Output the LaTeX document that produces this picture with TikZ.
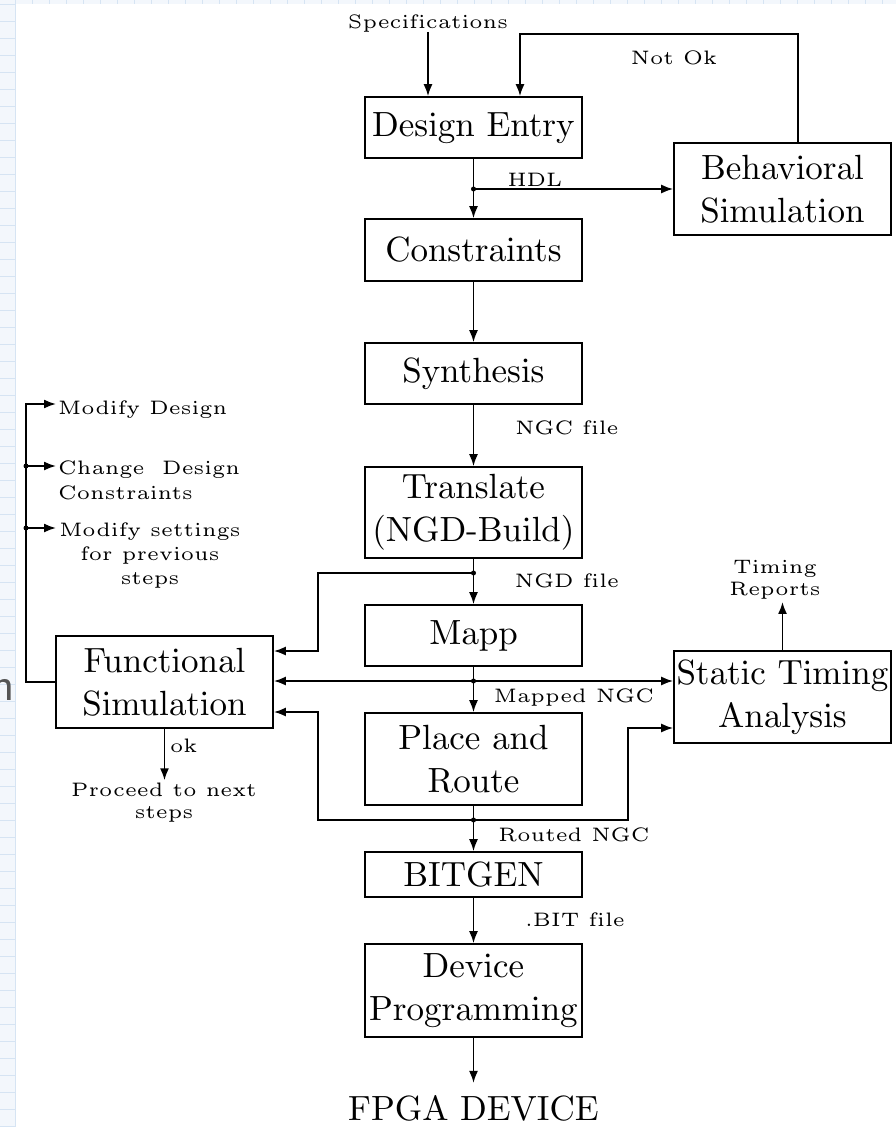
\documentclass[tikz,border=0pt]{standalone}
\usetikzlibrary{arrows.meta}
\font\bigf=cmr10 at 35pt
\font\lbl=cmr5 at 19.5pt
\definecolor{gridblue}{HTML}{D6E4F3}
\definecolor{stripbg}{HTML}{F3F7FC}
\definecolor{fraggray}{HTML}{555555}
\tikzset{
  box/.style={draw, line width=1.7pt, minimum width=217pt, inner sep=0pt, align=center, font={\bigf\baselineskip=43pt\relax}},
  lab/.style={font={\lbl\baselineskip=24pt\relax}, inner sep=0pt, align=center},
  conn/.style={line width=1.7pt},
  arr/.style={conn, -{Latex[length=12pt,width=9pt]}},
  jdot/.style={circle, fill, inner sep=0pt, minimum size=5pt},
}
\begin{document}
\begin{tikzpicture}[x=1pt,y=-1pt]
\useasboundingbox (0,0) rectangle (896,1127);
\fill[white] (0,0) rectangle (896,1127);
% background strip of the page
\fill[stripbg] (0,0) rectangle (15,1127);
\fill[stripbg] (0,0) rectangle (896,4);
\foreach \yy in {4,21,...,1127} \draw[gridblue, line width=0.6pt] (0,\yy) -- (15,\yy);
\foreach \xx in {15,32,...,896} \draw[gridblue, line width=0.6pt] (\xx,0) -- (\xx,4);
\draw[gridblue, line width=1pt] (15,4) -- (15,1127);
\node[anchor=base east, inner sep=0pt, text=fraggray, font=\sffamily\fontsize{48}{48}\selectfont] (frag) at (15,700) {n};

% boxes
\node[box, minimum height=61pt] (de) at (473.5,127.5) {Design Entry};
\node[box, minimum height=62pt] (cons) at (473.5,250) {Constraints};
\node[box, minimum height=61pt] (syn) at (473.5,373.5) {Synthesis};
\node[box, minimum height=91pt] (trans) at (473.5,512.5) {Translate\\(NGD-Build)};
\node[box, minimum height=61pt] (mapp) at (473.5,635.5) {Mapp};
\node[box, minimum height=92pt] (pr) at (473.5,759) {Place and\\Route};
\node[box, minimum height=45pt] (bit) at (473.5,874.5) {BITGEN};
\node[box, minimum height=93pt] (dev) at (473.5,990.5) {Device\\Programming};
\node[box, minimum height=92pt] (beh) at (782.5,189) {Behavioral\\Simulation};
\node[box, minimum height=92pt] (fun) at (164.5,682) {Functional\\Simulation};
\node[box, minimum height=92pt] (sta) at (782.5,697) {Static Timing\\Analysis};
\node[font=\bigf, inner sep=13pt, anchor=base] (fpga) at (473.5,1120) {FPGA DEVICE};

% labels (anchor=base of a multi-line label is the last line's baseline)
\node[lab, anchor=base] (spec) at (428,28) {Specifications};
\node[lab, anchor=base] (notok) at (674,64) {Not Ok};
\node[lab, anchor=base] (hdl) at (535,186) {HDL};
\node[lab, anchor=base] (ngc) at (567,434) {NGC file};
\node[lab, anchor=base] (ngd) at (567,587) {NGD file};
\node[lab, anchor=base] (mngc) at (574,702) {Mapped NGC};
\node[lab, anchor=base] (rngc) at (574,841) {Routed NGC};
\node[lab, anchor=base] (bitf) at (575,926) {.BIT file};
\node[lab, anchor=base, font={\lbl\baselineskip=22pt\relax}, inner sep=3pt] (tr) at (775,595) {Timing\\Reports};
\node[lab, anchor=base west] (md) at (58,414) {Modify Design};
\node[lab, anchor=base west, align=left, font={\lbl\baselineskip=25pt\relax}] (cdc) at (58,499) {\makebox[182pt][l]{Change\hfill Design}\\Constraints};
\node[lab, anchor=base] (mset) at (150,584) {Modify settings\\for previous\\steps};
\node[lab, anchor=base west] (ok) at (170,752) {ok};
\node[lab, anchor=base, inner sep=2pt, font={\lbl\baselineskip=22pt\relax}] (pn) at (164,818) {Proceed to next\\steps};

% junctions and helper coordinates
\coordinate (j1) at (473.5,189);
\coordinate (j2) at (473.5,573);
\coordinate (j3) at (473.5,681);
\coordinate (j4) at (473.5,820);
\coordinate (nk1) at (798,34);
\coordinate (nk2) at (520,34);
\coordinate (c1) at (318,651);
\coordinate (c2) at (318,712);
\coordinate (c3) at (628,728);
\coordinate (lt) at (26,404);
\coordinate (b2) at (26,466);
\coordinate (b3) at (26,528);
\coordinate (t1) at (56,404);
\coordinate (t2) at (56,466);
\coordinate (t3) at (56,528);

% main flow
\draw[arr] (spec.south) -- (spec.south |- de.north);
\draw[arr] (beh.north -| nk1) -- (nk1) -- (nk2) -- (nk2 |- de.north);
\draw[arr] (de) -- (cons);
\draw[arr] (j1) -- (beh.west);
\draw[arr] (cons) -- (syn);
\draw[arr] (syn) -- (trans);
\draw[arr] (trans) -- (mapp);
\draw[arr] (j2) -| (c1) -- (c1 -| fun.east);
\draw[arr] (mapp) -- (pr);
\draw[arr] (j3) -- (j3 -| sta.west);
\draw[arr] (j3) -- (j3 -| fun.east);
\draw[arr] (pr) -- (bit);
\draw[arr] (j4) -| (c2) -- (c2 -| fun.east);
\draw[arr] (j4) -| (c3) -- (c3 -| sta.west);
\draw[arr] (bit) -- (dev);
\draw[arr] (dev) -- (fpga.north);
\draw[arr] (sta.north) -- (sta.north |- tr.south);
\draw[arr] (fun.west) -| (lt) -- (t1);
\draw[arr] (b2) -- (t2);
\draw[arr] (b3) -- (t3);
\draw[arr] (fun.south) -- (fun.south |- pn.north);

\foreach \p in {j1,j2,j3,j4,b2,b3} \node[jdot] at (\p) {};
\end{tikzpicture}
\end{document}
